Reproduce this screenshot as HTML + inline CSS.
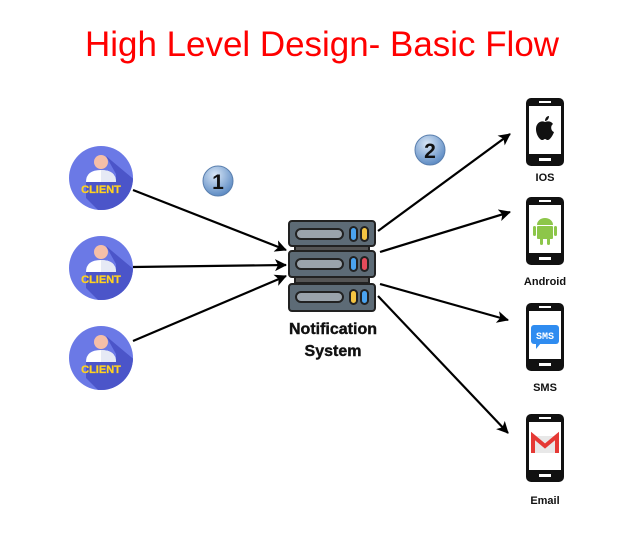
<!DOCTYPE html>
<html><head><style>html,body{margin:0;padding:0;background:#fff}svg{display:block}</style></head><body>
<svg width="644" height="534" viewBox="0 0 644 534" xmlns="http://www.w3.org/2000/svg" font-family="Liberation Sans, sans-serif">
<defs>
<marker id="ah" markerWidth="12" markerHeight="12" refX="11" refY="6" orient="auto" markerUnits="userSpaceOnUse">
<path d="M0,0 L12,6 L0,12 L3,6 Z" fill="#000"/></marker>
<radialGradient id="bg" cx="40%" cy="30%" r="70%"><stop offset="0" stop-color="#d8e6f6"/><stop offset="1" stop-color="#5e8cc4"/></radialGradient>
<clipPath id="cc"><circle r="32"/></clipPath>
</defs>
<text x="322" y="56" text-anchor="middle" fill="#ff0000" font-size="35" textLength="474" lengthAdjust="spacingAndGlyphs">High Level Design- Basic Flow</text>

<g stroke="#000" stroke-width="2.2" fill="none" marker-end="url(#ah)">
<line x1="133" y1="190" x2="286" y2="250"/>
<line x1="133" y1="267" x2="286" y2="265"/>
<line x1="133" y1="341" x2="286" y2="276"/>
<line x1="378" y1="231" x2="510" y2="134"/>
<line x1="380" y1="252" x2="510" y2="212"/>
<line x1="380" y1="284" x2="508" y2="320"/>
<line x1="378" y1="296" x2="508" y2="433"/>
</g>

<g id="cl">
<g transform="translate(101,178)">
<circle r="32" fill="#6b79e6"/>
<path d="M5,-22 L15,-4 L15,4 L-15,4 L-15,20 L20,55 L55,20 Z" fill="#4b55c9" clip-path="url(#cc)"/>
<circle cx="0" cy="-16" r="7" fill="#f5bfa8"/>
<path d="M-15,4 Q-15,-8 0,-8 Q15,-8 15,4 Z" fill="#fff"/>
<path d="M0,-8 Q15,-8 15,4 L0,4 Z" fill="#e6eaf5"/>
<text x="0" y="15" text-anchor="middle" font-size="11" font-weight="bold" fill="#ffd21f" stroke="#ffd21f" stroke-width="0.3">CLIENT</text>
</g></g>
<use href="#cl" y="90"/>
<use href="#cl" y="180"/>

<g>
<circle cx="218" cy="181" r="15" fill="url(#bg)" stroke="#5a7fae"/>
<text x="218" y="189" text-anchor="middle" font-size="21" font-weight="bold" fill="#111">1</text>
<circle cx="430" cy="150" r="15" fill="url(#bg)" stroke="#5a7fae"/>
<text x="430" y="158" text-anchor="middle" font-size="21" font-weight="bold" fill="#111">2</text>
</g>

<g stroke="#222" stroke-width="2">
<rect x="295" y="246" width="74" height="6" fill="#555"/>
<rect x="295" y="277" width="74" height="6" fill="#555"/>
<rect x="289" y="221" width="86" height="25" rx="3" fill="#5d6b76"/>
<rect x="289" y="251" width="86" height="26" rx="3" fill="#5d6b76"/>
<rect x="289" y="284" width="86" height="27" rx="3" fill="#5d6b76"/>
<rect x="296" y="229" width="47" height="10" rx="5" fill="#9aa3ab"/>
<rect x="296" y="259" width="47" height="10" rx="5" fill="#9aa3ab"/>
<rect x="296" y="292" width="47" height="10" rx="5" fill="#9aa3ab"/>
<rect x="350" y="227" width="7" height="14" rx="3.5" fill="#4aa3f0"/>
<rect x="361" y="227" width="7" height="14" rx="3.5" fill="#f5c542"/>
<rect x="350" y="257" width="7" height="14" rx="3.5" fill="#4aa3f0"/>
<rect x="361" y="257" width="7" height="14" rx="3.5" fill="#e54b5b"/>
<rect x="350" y="290" width="7" height="14" rx="3.5" fill="#f5c542"/>
<rect x="361" y="290" width="7" height="14" rx="3.5" fill="#4aa3f0"/>
</g>
<g font-size="16" font-weight="bold" fill="#111" stroke="#111" stroke-width="0.4" text-anchor="middle">
<text x="333" y="334">Notification</text>
<text x="333" y="356">System</text>
</g>

<g id="ph">
<rect x="526" y="98" width="38" height="68" rx="5" fill="#111"/>
<rect x="529" y="106" width="32" height="48" fill="#fff"/>
<rect x="539" y="101" width="12" height="2" fill="#fff"/>
<rect x="539" y="158" width="12" height="3" fill="#fff"/>
</g>
<use href="#ph" y="99"/>
<use href="#ph" y="205"/>
<use href="#ph" y="316"/>
<path d="M545,122 c-4,-2 -9,1 -9,7 c0,6 4,11 6,11 c2,0 2,-1 3,-1 c1,0 1,1 3,1 c2,0 5,-5 6,-8 c-3,-1 -4,-6 -1,-8 c-2,-3 -5,-3 -8,-2 Z M545,121 c0,-3 2,-5 4,-5 c0,3 -2,5 -4,5 Z" fill="#111"/>
<g fill="#8dc64a">
<path d="M537,225 a8,7 0 0 1 16,0 Z"/>
<rect x="537" y="226" width="16" height="13" rx="1"/>
<rect x="533" y="226" width="3" height="10" rx="1.5"/>
<rect x="554" y="226" width="3" height="10" rx="1.5"/>
<rect x="540" y="238" width="3" height="7" rx="1.5"/>
<rect x="547" y="238" width="3" height="7" rx="1.5"/>
</g>
<rect x="531" y="325" width="28" height="19" rx="3" fill="#2f8cf0"/>
<path d="M536,343 l0,6 l5,-6 Z" fill="#2f8cf0"/>
<text x="545" y="339" text-anchor="middle" font-size="10" font-weight="bold" fill="#fff" font-family="Liberation Mono, monospace">SMS</text>
<rect x="533" y="436" width="24" height="17" fill="#e8e8e8"/>
<path d="M533,453 L533,436 L545,446 L557,436 L557,453" fill="none" stroke="#e53935" stroke-width="4"/>

<g font-size="11" font-weight="bold" fill="#111" text-anchor="middle">
<text x="545" y="181">IOS</text>
<text x="545" y="285">Android</text>
<text x="545" y="391">SMS</text>
<text x="545" y="504">Email</text>
</g>
</svg>
</body></html>
